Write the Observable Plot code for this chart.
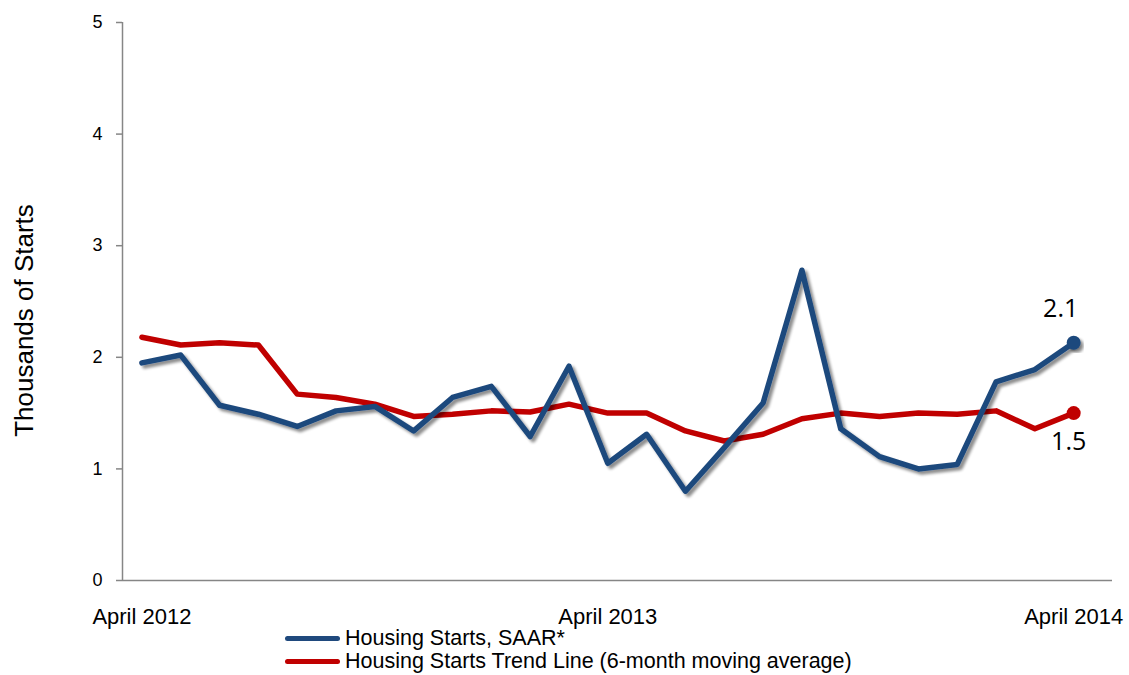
<!DOCTYPE html>
<html>
<head>
<meta charset="utf-8">
<script src="https://cdn.jsdelivr.net/npm/d3@7"></script>
<script src="https://cdn.jsdelivr.net/npm/@observablehq/plot@0.6"></script>
<style>
  html, body { margin: 0; padding: 0; background: #fff; }
  body { position: relative; width: 1129px; height: 675px; overflow: hidden; font-family: "Liberation Sans", Arial, sans-serif; }
  #legend { position: absolute; left: 285px; top: 627px; font-size: 21.5px; color: #000; }
  .row { display: flex; align-items: center; height: 23px; line-height: 23px; white-space: nowrap; }
  .sw { width: 55px; height: 5px; border-radius: 2.5px; margin-right: 5px; }
</style>
</head>
<body>
<div id="chart"></div>
<div id="legend"></div>
<script>
// ---- data ----
const months = [
  "Apr 2012","May 2012","Jun 2012","Jul 2012","Aug 2012","Sep 2012","Oct 2012","Nov 2012","Dec 2012",
  "Jan 2013","Feb 2013","Mar 2013","Apr 2013","May 2013","Jun 2013","Jul 2013","Aug 2013","Sep 2013",
  "Oct 2013","Nov 2013","Dec 2013","Jan 2014","Feb 2014","Mar 2014","Apr 2014"
];
const housingStarts = [
  1.95, 2.02, 1.57, 1.49, 1.38, 1.52, 1.56, 1.34, 1.64, 1.74, 1.29, 1.92, 1.05,
  1.31, 0.80, 1.19, 1.59, 2.78, 1.36, 1.11, 1.00, 1.04, 1.78, 1.89, 2.13
];
const trendLine = [
  2.18, 2.11, 2.13, 2.11, 1.67, 1.64, 1.58, 1.47, 1.49, 1.52, 1.51, 1.58, 1.50,
  1.50, 1.34, 1.25, 1.31, 1.45, 1.50, 1.47, 1.50, 1.49, 1.52, 1.36, 1.50
];
const seriesNames = ["Housing Starts, SAAR*", "Housing Starts Trend Line (6-month moving average)"];
const seriesColors = ["#1F497D", "#C00000"];
const tickMonths = ["Apr 2012", "Apr 2013", "Apr 2014"];
const tickLabels = ["April 2012", "April 2013", "April 2014"];
const yTicks = [0, 1, 2, 3, 4, 5];
const yTitle = "Thousands of Starts";

// ---- table ----
const rows = [];
[housingStarts, trendLine].forEach((vals, s) => {
  vals.forEach((v, i) => rows.push({ i, month: months[i], value: v, series: seriesNames[s] }));
});
const last = i => rows.filter(d => d.series === seriesNames[i] && d.i === months.length - 1);
const tickIdx = tickMonths.map(m => months.indexOf(m));
const fmt = d3.format(".1f");

const chart = Plot.plot({
  width: 1129,
  height: 632,
  marginLeft: 122,
  marginRight: 17,
  marginTop: 22,
  marginBottom: 52,
  style: { fontFamily: '"Liberation Sans", Arial, sans-serif', background: "white", color: "black", overflow: "visible" },
  x: { type: "linear", domain: [-0.5, months.length], axis: null },
  y: { domain: [0, 5], axis: null },
  color: { domain: seriesNames, range: seriesColors },
  marks: [
    Plot.ruleX([-0.5], { y1: 0, y2: 5, stroke: "#868686", strokeWidth: 1.5 }),
    Plot.ruleY([0], { stroke: "#868686", strokeWidth: 1.5 }),
    Plot.axisY({ ticks: yTicks, tickSize: 6, tickPadding: 14, fontSize: 18, label: null, stroke: "#868686", strokeWidth: 1.5, fill: "black", tickFormat: d => String(d) }),
    Plot.axisX({ ticks: tickIdx, tickSize: 0, tickPadding: 28, fontSize: 22, label: null, fill: "black", tickFormat: i => tickLabels[tickIdx.indexOf(i)] }),
    Plot.text([yTitle], { frameAnchor: "left", textAnchor: "middle", rotate: -90, dx: -97.5, dy: 19, fontSize: 26, fill: "black", text: d => d }),
    Plot.line(rows.filter(d => d.series === seriesNames[1]), { x: "i", y: "value", stroke: "series", strokeWidth: 5.5, strokeLinejoin: "round", strokeLinecap: "round" }),
    Plot.line(rows.filter(d => d.series === seriesNames[0]), { x: "i", y: "value", stroke: "series", strokeWidth: 5.5, strokeLinejoin: "round", strokeLinecap: "round" }),
    Plot.dot(last(0).concat(last(1)), { x: "i", y: "value", fill: "series", r: 7, stroke: null }),
    Plot.text(last(0), { x: "i", y: "value", text: d => fmt(d.value), dx: -13, dy: -34, fontSize: 25, fontFamily: '"Open Sans", sans-serif', fill: "black" }),
    Plot.text(last(1), { x: "i", y: "value", text: d => fmt(d.value), dx: -5, dy: 29, fontSize: 25, fontFamily: '"Open Sans", sans-serif', fill: "black" })
  ]
});
document.getElementById("chart").appendChild(chart);

// drop shadow for the blue series (Excel-style)
const svg = d3.select(chart);
const defs = svg.insert("defs", ":first-child");
const f = defs.append("filter").attr("id", "shadow").attr("x", "-10%").attr("y", "-10%").attr("width", "130%").attr("height", "130%");
f.append("feGaussianBlur").attr("in", "SourceAlpha").attr("stdDeviation", 1.8).attr("result", "b");
f.append("feOffset").attr("in", "b").attr("dx", 3).attr("dy", 3).attr("result", "o");
const ct = f.append("feComponentTransfer").attr("in", "o").attr("result", "c");
ct.append("feFuncA").attr("type", "linear").attr("slope", 0.45);
const m = f.append("feMerge");
m.append("feMergeNode").attr("in", "c");
m.append("feMergeNode").attr("in", "SourceGraphic");
svg.selectAll("path, circle").filter(function () {
  const s = (this.getAttribute("stroke") || "").toLowerCase();
  const fi = (this.getAttribute("fill") || "").toLowerCase();
  return s === seriesColors[0].toLowerCase() || (this.tagName === "circle" && fi === seriesColors[0].toLowerCase());
}).attr("filter", "url(#shadow)");

// legend
const legend = d3.select("#legend");
seriesNames.forEach((name, k) => {
  const r = legend.append("div").attr("class", "row");
  r.append("div").attr("class", "sw").style("background", seriesColors[k]);
  r.append("span").text(name);
});
</script>
</body>
</html>
